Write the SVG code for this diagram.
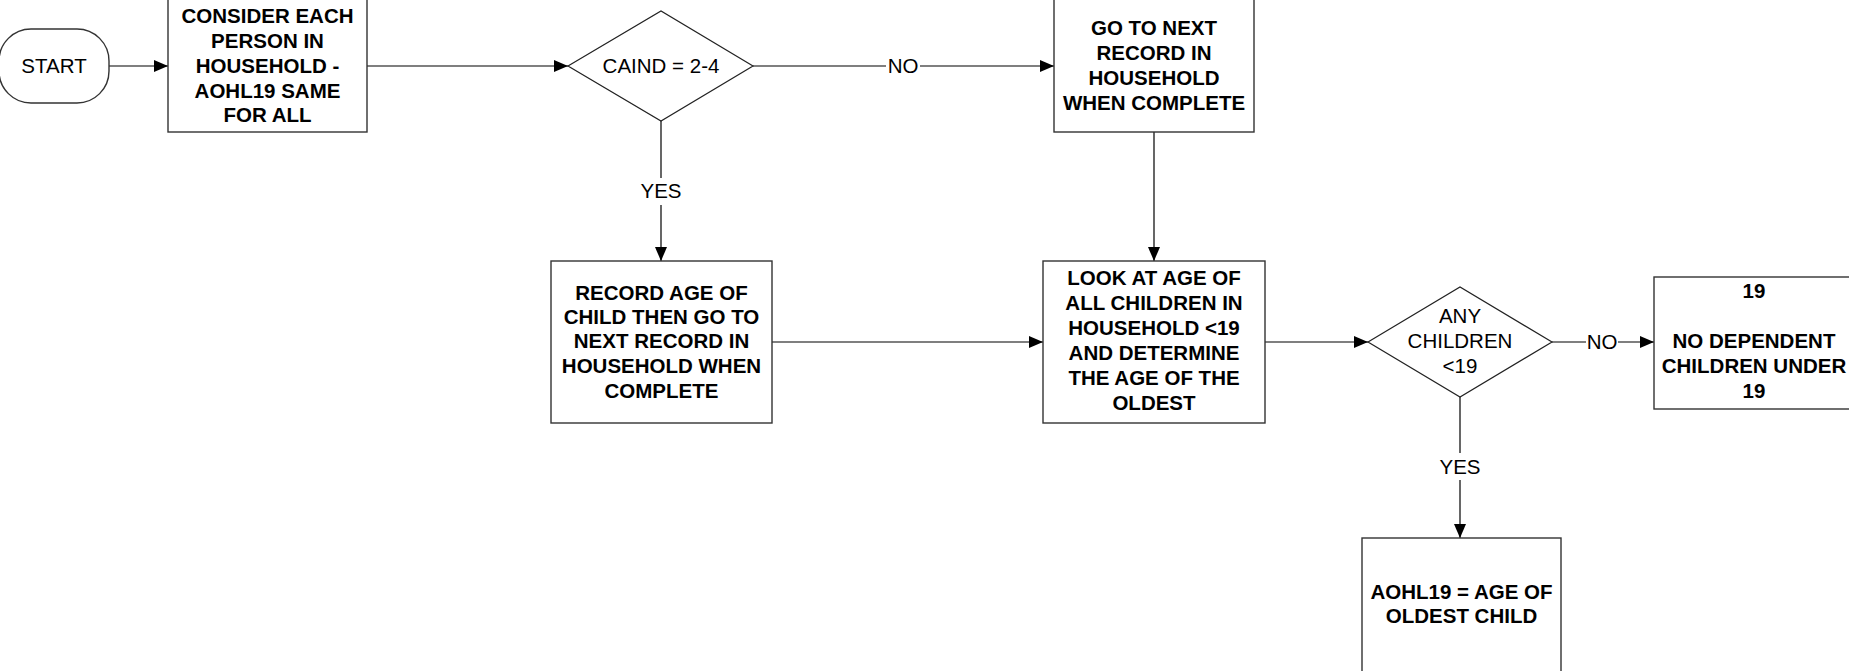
<svg xmlns="http://www.w3.org/2000/svg" width="1849" height="671" viewBox="0 0 1849 671">
<style>
.box{fill:#fff;stroke:#333;stroke-width:1.4}
.dia{fill:#fff;stroke:#222;stroke-width:1.2}
.b{font-family:"Liberation Sans",Arial,sans-serif;font-weight:bold;font-size:20.5px;text-anchor:middle;fill:#000}
.r{font-family:"Liberation Sans",Arial,sans-serif;font-size:20.5px;text-anchor:middle;fill:#000}
.ln{fill:none;stroke:#000;stroke-width:1.2}
.lbl{fill:#fff;stroke:none}
</style>
<defs>
<marker id="ah" viewBox="0 0 14 12" refX="14" refY="6" markerWidth="14" markerHeight="12" markerUnits="userSpaceOnUse" orient="auto">
<path d="M0,0 L14,6 L0,12 Z" fill="#000"/>
</marker>
</defs>
<rect width="1849" height="671" fill="#fff"/>
<g id="connectors">
<line class="ln" x1="109" y1="66" x2="168" y2="66" marker-end="url(#ah)"/>
<line class="ln" x1="367" y1="66" x2="568" y2="66" marker-end="url(#ah)"/>
<line class="ln" x1="753" y1="66" x2="1054" y2="66" marker-end="url(#ah)"/>
<rect class="lbl" x="886" y="54" width="34" height="22"/>
<text class="r" x="903" y="73">NO</text>
<line class="ln" x1="661" y1="121" x2="661" y2="261" marker-end="url(#ah)"/>
<rect class="lbl" x="636" y="178" width="50" height="27"/>
<text class="r" x="661" y="198">YES</text>
<line class="ln" x1="1154" y1="132" x2="1154" y2="261" marker-end="url(#ah)"/>
<line class="ln" x1="772" y1="342" x2="1043" y2="342" marker-end="url(#ah)"/>
<line class="ln" x1="1265" y1="342" x2="1368" y2="342" marker-end="url(#ah)"/>
<line class="ln" x1="1552" y1="342" x2="1654" y2="342" marker-end="url(#ah)"/>
<rect class="lbl" x="1586" y="330" width="32" height="22"/>
<text class="r" x="1602" y="349">NO</text>
<line class="ln" x1="1460" y1="397" x2="1460" y2="538" marker-end="url(#ah)"/>
<rect class="lbl" x="1435" y="453" width="50" height="27"/>
<text class="r" x="1460" y="474">YES</text>
</g>
<g id="start">
<rect class="box" x="-1" y="29" width="110" height="74" rx="32" ry="32"/>
<text class="r" x="54" y="73">START</text>
</g>
<g id="consider">
<rect class="box" x="168" y="-1" width="199" height="133"/>
<text class="b" x="267.5" y="23">CONSIDER EACH</text>
<text class="b" x="267.5" y="48">PERSON IN</text>
<text class="b" x="267.5" y="73">HOUSEHOLD -</text>
<text class="b" x="267.5" y="98">AOHL19 SAME</text>
<text class="b" x="267.5" y="122">FOR ALL</text>
</g>
<g id="caind">
<polygon class="dia" points="568,66 661,11 753,66 661,121"/>
<text class="r" x="661" y="73">CAIND = 2-4</text>
</g>
<g id="gotonext">
<rect class="box" x="1054" y="-1" width="200" height="133"/>
<text class="b" x="1154" y="35">GO TO NEXT</text>
<text class="b" x="1154" y="60">RECORD IN</text>
<text class="b" x="1154" y="85">HOUSEHOLD</text>
<text class="b" x="1154" y="110">WHEN COMPLETE</text>
</g>
<g id="record">
<rect class="box" x="551" y="261" width="221" height="162"/>
<text class="b" x="661.5" y="300">RECORD AGE OF</text>
<text class="b" x="661.5" y="324">CHILD THEN GO TO</text>
<text class="b" x="661.5" y="348">NEXT RECORD IN</text>
<text class="b" x="661.5" y="373">HOUSEHOLD WHEN</text>
<text class="b" x="661.5" y="398">COMPLETE</text>
</g>
<g id="look">
<rect class="box" x="1043" y="261" width="222" height="162"/>
<text class="b" x="1154" y="285">LOOK AT AGE OF</text>
<text class="b" x="1154" y="310">ALL CHILDREN IN</text>
<text class="b" x="1154" y="335">HOUSEHOLD &lt;19</text>
<text class="b" x="1154" y="360">AND DETERMINE</text>
<text class="b" x="1154" y="385">THE AGE OF THE</text>
<text class="b" x="1154" y="410">OLDEST</text>
</g>
<g id="anychildren">
<polygon class="dia" points="1368,342 1460,287 1552,342 1460,397"/>
<text class="r" x="1460" y="323">ANY</text>
<text class="r" x="1460" y="348">CHILDREN</text>
<text class="r" x="1460" y="373">&lt;19</text>
</g>
<g id="nodependent">
<rect class="box" x="1654" y="277" width="200" height="132"/>
<text class="b" x="1754" y="298">19</text>
<text class="b" x="1754" y="348">NO DEPENDENT</text>
<text class="b" x="1754" y="373">CHILDREN UNDER</text>
<text class="b" x="1754" y="398">19</text>
</g>
<g id="aohl19">
<rect class="box" x="1362" y="538" width="199" height="134"/>
<text class="b" x="1461.5" y="599">AOHL19 = AGE OF</text>
<text class="b" x="1461.5" y="623">OLDEST CHILD</text>
</g>
</svg>
